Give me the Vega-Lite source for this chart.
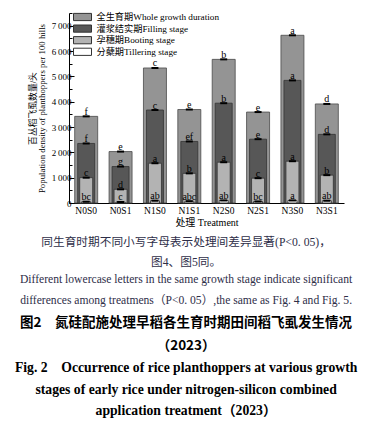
{
  "$schema": "https://vega.github.io/schema/vega-lite/v6.json",
  "padding": {"left": 14, "top": 12, "right": 5, "bottom": 5},
  "config": {
    "font": "Liberation Serif, Noto Sans CJK SC",
    "view": {"stroke": null},
    "axis": {"labelColor": "black", "titleColor": "black", "domainColor": "black", "tickColor": "black"},
    "legend": {
      "title": null,
      "orient": "none",
      "legendX": 4,
      "legendY": -1,
      "symbolType": "M-1,-0.8H3V0.8H-1Z",
      "symbolSize": 81,
      "symbolStrokeColor": "#333333",
      "symbolStrokeWidth": 1,
      "symbolOpacity": 1,
      "labelFontSize": 9.2,
      "labelColor": "black",
      "labelOffset": 13.5,
      "rowPadding": -0.4,
      "padding": 0
    }
  },
  "title": {
    "text": ["图2　氮硅配施处理早稻各生育时期田间稻飞虱发生情况", "（2023）"],
    "subtitle": ["Fig. 2　Occurrence of rice planthoppers at various growth", "stages of early rice under nitrogen-silicon combined", "application treatment（2023）"],
    "orient": "bottom",
    "anchor": "middle",
    "frame": "bounds",
    "font": "Noto Sans CJK SC",
    "fontSize": 13.5,
    "fontWeight": "bold",
    "lineHeight": 23,
    "color": "black",
    "subtitleFont": "Liberation Serif, Noto Sans CJK SC",
    "subtitleFontSize": 13.7,
    "subtitleFontWeight": "bold",
    "subtitleLineHeight": 21.5,
    "subtitleColor": "black",
    "subtitlePadding": 9,
    "offset": 9
  },
  "vconcat": [
    {
      "width": 275,
      "height": 190,
      "title": {
        "text": ["同生育时期不同小写字母表示处理间差异显著(P<0. 05)，", "图4、图5同。"],
        "subtitle": ["Different lowercase letters in the same growth stage indicate significant", "differences among treatmens（P<0. 05）,the same as Fig. 4 and Fig. 5."],
        "orient": "bottom",
        "anchor": "middle",
        "frame": "bounds",
        "font": "Liberation Serif, Noto Sans CJK SC",
        "fontSize": 11.7,
        "fontWeight": "normal",
        "lineHeight": 20,
        "color": "#2e2e48",
        "subtitleFont": "Liberation Serif, Noto Sans CJK SC",
        "subtitleFontSize": 11.6,
        "subtitleLineHeight": 21,
        "subtitleColor": "#2e2e48",
        "subtitlePadding": 6,
        "offset": 9
      },
      "data": {
        "values": [
          {"t": "N0S0", "stage": "全生育期Whole growth duration", "v": 3420, "sig": "f"},
          {"t": "N0S0", "stage": "灌浆结实期Filling stage", "v": 2350, "sig": "f"},
          {"t": "N0S0", "stage": "孕穗期Booting stage", "v": 1000, "sig": "c"},
          {"t": "N0S0", "stage": "分蘖期Tillering stage", "v": 50, "sig": "bc"},
          {"t": "N0S1", "stage": "全生育期Whole growth duration", "v": 2030, "sig": "e"},
          {"t": "N0S1", "stage": "灌浆结实期Filling stage", "v": 1440, "sig": "g"},
          {"t": "N0S1", "stage": "孕穗期Booting stage", "v": 540, "sig": "d"},
          {"t": "N0S1", "stage": "分蘖期Tillering stage", "v": 40, "sig": "c"},
          {"t": "N1S0", "stage": "全生育期Whole growth duration", "v": 5330, "sig": "c"},
          {"t": "N1S0", "stage": "灌浆结实期Filling stage", "v": 3670, "sig": "c"},
          {"t": "N1S0", "stage": "孕穗期Booting stage", "v": 1570, "sig": "a"},
          {"t": "N1S0", "stage": "分蘖期Tillering stage", "v": 90, "sig": "ab"},
          {"t": "N1S1", "stage": "全生育期Whole growth duration", "v": 3690, "sig": "e"},
          {"t": "N1S1", "stage": "灌浆结实期Filling stage", "v": 2430, "sig": "ef"},
          {"t": "N1S1", "stage": "孕穗期Booting stage", "v": 1170, "sig": "b"},
          {"t": "N1S1", "stage": "分蘖期Tillering stage", "v": 70, "sig": "abc"},
          {"t": "N2S0", "stage": "全生育期Whole growth duration", "v": 5670, "sig": "b"},
          {"t": "N2S0", "stage": "灌浆结实期Filling stage", "v": 3940, "sig": "b"},
          {"t": "N2S0", "stage": "孕穗期Booting stage", "v": 1610, "sig": "a"},
          {"t": "N2S0", "stage": "分蘖期Tillering stage", "v": 100, "sig": "ab"},
          {"t": "N2S1", "stage": "全生育期Whole growth duration", "v": 3590, "sig": "e"},
          {"t": "N2S1", "stage": "灌浆结实期Filling stage", "v": 2520, "sig": "e"},
          {"t": "N2S1", "stage": "孕穗期Booting stage", "v": 980, "sig": "c"},
          {"t": "N2S1", "stage": "分蘖期Tillering stage", "v": 60, "sig": "bc"},
          {"t": "N3S0", "stage": "全生育期Whole growth duration", "v": 6620, "sig": "a"},
          {"t": "N3S0", "stage": "灌浆结实期Filling stage", "v": 4840, "sig": "a"},
          {"t": "N3S0", "stage": "孕穗期Booting stage", "v": 1650, "sig": "a"},
          {"t": "N3S0", "stage": "分蘖期Tillering stage", "v": 100, "sig": "a"},
          {"t": "N3S1", "stage": "全生育期Whole growth duration", "v": 3910, "sig": "d"},
          {"t": "N3S1", "stage": "灌浆结实期Filling stage", "v": 2710, "sig": "d"},
          {"t": "N3S1", "stage": "孕穗期Booting stage", "v": 1100, "sig": "b"},
          {"t": "N3S1", "stage": "分蘖期Tillering stage", "v": 90, "sig": "ab"}
        ]
      },
      "encoding": {
        "x": {
          "field": "t",
          "type": "nominal",
          "sort": null,
          "scale": {"paddingInner": 0, "paddingOuter": 0},
          "axis": {
            "labelAngle": 0,
            "ticks": false,
            "labelFontSize": 9.5,
            "labelPadding": 2,
            "title": "处理  Treatment",
            "titleFontSize": 10,
            "titleFontWeight": "normal",
            "titlePadding": 3
          }
        },
        "y": {
          "field": "v",
          "type": "quantitative",
          "stack": null,
          "scale": {"domain": [0, 7500], "nice": false, "zero": true},
          "axis": {
            "values": [0, 500, 1000, 1500, 2000, 2500, 3000, 3500, 4000, 4500, 5000, 5500, 6000, 6500, 7000, 7500],
            "labelExpr": "datum.value % 1000 === 0 ? replace(format(datum.value, ','), ',', '\u2009') : ''",
            "grid": false,
            "tickSize": {"condition": {"test": "datum.value % 1000 === 0", "value": -5}, "value": -3},
            "labelFontSize": 9,
            "labelPadding": 3,
            "title": ["百丛稻飞虱数量/头", "Population density of planthoppers per 100 hills"],
            "titleFontSize": 8.8,
            "titleFontWeight": "normal",
            "titleLineHeight": 9,
            "titlePadding": 5
          }
        }
      },
      "layer": [
        {
          "transform": [{"filter": "datum.stage === '全生育期Whole growth duration'"}],
          "mark": {"type": "bar", "width": 23, "stroke": "#4a4a4a", "strokeWidth": 0.8},
          "encoding": {
            "color": {
              "field": "stage",
              "type": "nominal",
              "scale": {
                "domain": ["全生育期Whole growth duration", "灌浆结实期Filling stage", "孕穗期Booting stage", "分蘖期Tillering stage"],
                "range": ["#949494", "#575757", "#b3b3b3", "#ffffff"]
              }
            }
          }
        },
        {
          "transform": [{"filter": "datum.stage === '灌浆结实期Filling stage'"}],
          "mark": {"type": "bar", "width": 17, "stroke": "#333333", "strokeWidth": 0.8},
          "encoding": {"color": {"field": "stage", "type": "nominal"}}
        },
        {
          "transform": [{"filter": "datum.stage === '孕穗期Booting stage'"}],
          "mark": {"type": "bar", "width": 13, "stroke": "#333333", "strokeWidth": 0.8},
          "encoding": {"color": {"field": "stage", "type": "nominal"}}
        },
        {
          "transform": [{"filter": "datum.stage === '分蘖期Tillering stage'"}],
          "mark": {"type": "bar", "width": 9, "stroke": "#222222", "strokeWidth": 0.8},
          "encoding": {"color": {"field": "stage", "type": "nominal"}}
        },
        {
          "mark": {"type": "tick", "color": "black", "fill": "black", "size": 7, "thickness": 2, "opacity": 1},
          "encoding": {}
        },
        {
          "mark": {"type": "text", "fontSize": 10, "baseline": "alphabetic", "dy": -1.5, "color": "black", "fill": "black"},
          "encoding": {"text": {"field": "sig"}}
        }
      ]
    }
  ]
}
